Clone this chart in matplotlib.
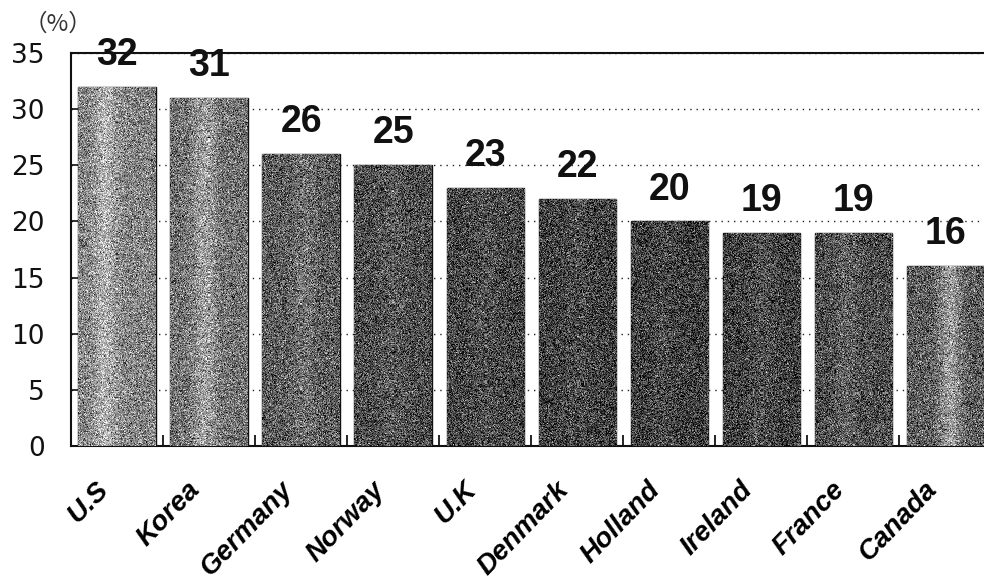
import numpy as np
import matplotlib.pyplot as plt
from matplotlib.transforms import ScaledTranslation

countries = ['U.S', 'Korea', 'Germany', 'Norway', 'U.K',
             'Denmark', 'Holland', 'Ireland', 'France', 'Canada']
values = [32, 31, 26, 25, 23, 22, 20, 19, 19, 16]

# mean gray of each bar's grainy fill, and a lighter vertical band (pos, strength)
shades = [0.52, 0.45, 0.36, 0.30, 0.27, 0.25, 0.24, 0.25, 0.30, 0.36]
bands = [(0.35, 0.18), (0.45, 0.18), (0.55, 0.08), (0.5, 0.05), (0.5, 0.04),
         (0.5, 0.04), (0.4, 0.05), (0.5, 0.06), (0.4, 0.08), (0.55, 0.25)]

plt.rcParams['font.family'] = ['Liberation Sans', 'DejaVu Sans']

fig = plt.figure(figsize=(9.84, 5.8), dpi=100)
ax = fig.add_axes([71 / 984, 134 / 580, 1 - 71 / 984, (446 - 53) / 580])

x = np.arange(len(countries))
width = 0.84
bars = ax.bar(x, values, width=width, color='#555555', edgecolor='#111111',
              linewidth=1.0, zorder=2)

# grainy fill, clipped to each bar
rng = np.random.default_rng(7)
for b, shade, (pos, amp) in zip(bars, shades, bands):
    h_px, w_px = int(b.get_height() * 11.2), 77
    cols = np.linspace(0, 1, w_px)
    profile = amp * np.exp(-((cols - pos) / 0.15) ** 2)
    img = shade + profile[None, :] + rng.normal(0, 0.17, (h_px, w_px))
    img = np.clip(img, 0, 1)
    im = ax.imshow(img, cmap='gray', vmin=0, vmax=1, interpolation='nearest',
                   aspect='auto', zorder=3,
                   extent=(b.get_x(), b.get_x() + b.get_width(), 0, b.get_height()))
    im.set_clip_path(b)

for b, v in zip(bars, values):
    ax.annotate(str(v), (b.get_x() + b.get_width() / 2, v),
                xytext=(0, 10), textcoords='offset points',
                ha='center', va='bottom', fontsize=27, fontweight='bold',
                color='#111111', zorder=5)

ax.set_xlim(-0.5, 9.42)
ax.set_ylim(0, 35)
ax.set_yticks(range(0, 36, 5))
ax.tick_params(axis='y', direction='in', length=7, width=1.2, pad=19,
               labelsize=19, colors='#111111')
for lab in ax.get_yticklabels():
    lab.set_family('DejaVu Sans')
ax.set_xticks(x, labels=countries)
ax.tick_params(axis='x', length=0, pad=22)
shift = ScaledTranslation(-22 / 100, 0, fig.dpi_scale_trans)
for lab in ax.get_xticklabels():
    lab.set_rotation(46)
    lab.set_rotation_mode('anchor')
    lab.set_ha('right')
    lab.set_va('top')
    lab.set_fontsize(20)
    lab.set_fontweight('bold')
    lab.set_fontstyle('italic')
    lab.set_transform(lab.get_transform() + shift)
ax.set_xticks(x[:-1] + 0.5, minor=True)
ax.tick_params(axis='x', which='minor', direction='in', length=8, width=1.2)

ax.set_axisbelow(True)
ax.yaxis.grid(True, color='#222222', linestyle=(0, (1, 3.5)), linewidth=1.0)
for side in ['left', 'bottom', 'top']:
    ax.spines[side].set_linewidth(1.5)
    ax.spines[side].set_color('#111111')
ax.spines['right'].set_visible(False)

fig.text(24 / 984, 1 - 24 / 580, '（%）', fontsize=17, color='#333333',
         family=['Noto Sans CJK JP', 'DejaVu Sans'], va='center', ha='left')

fig.savefig('out.png', dpi=100)
